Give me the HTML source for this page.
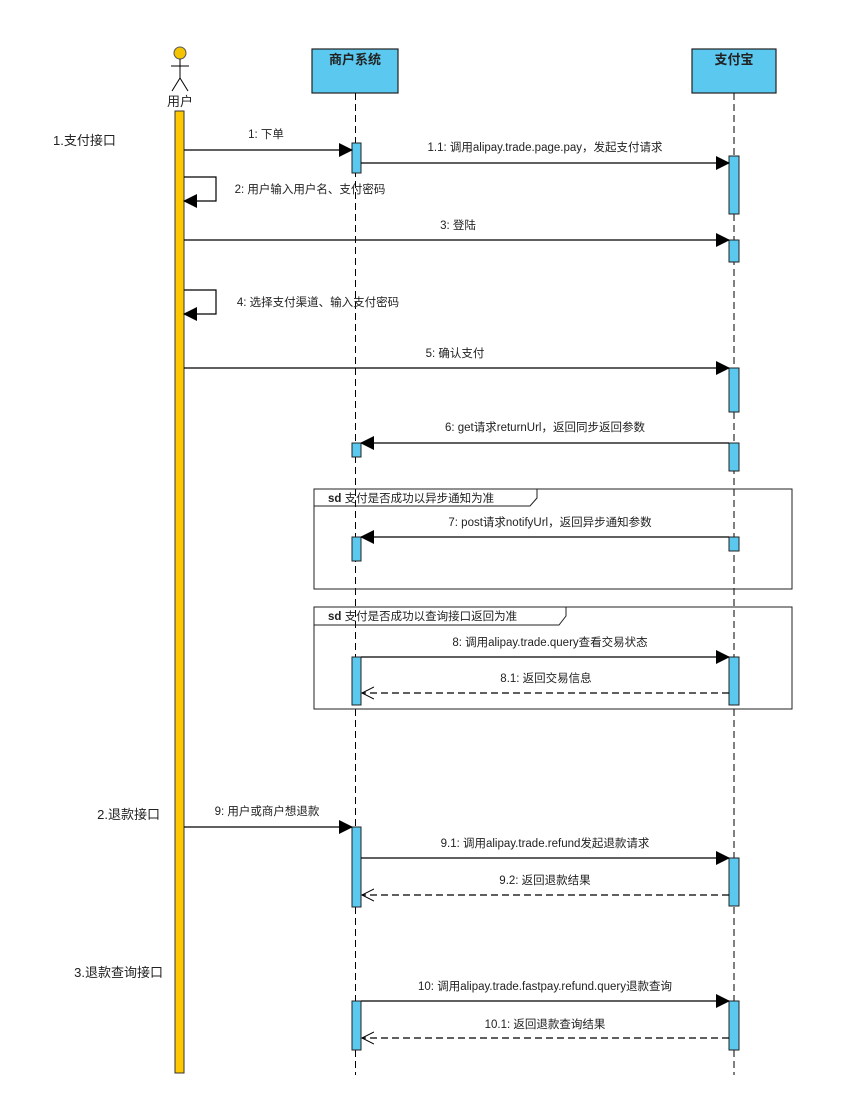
<!DOCTYPE html>
<html><head><meta charset="utf-8"><style>
body{margin:0;background:#fff}
svg{display:block}
text{font-family:"Liberation Sans","Noto Sans CJK SC",sans-serif;fill:#222}
.m{font-size:11.5px}
.s{font-size:13px}
</style></head><body>
<svg width="848" height="1102" viewBox="0 0 848 1102" xmlns="http://www.w3.org/2000/svg">
<defs>
<marker id="f" markerWidth="14" markerHeight="14" refX="13" refY="7" orient="auto" markerUnits="userSpaceOnUse"><path d="M0,0 L14,7 L0,14 Z" fill="#000"/></marker>
<marker id="o" markerWidth="14" markerHeight="14" refX="12" refY="7" orient="auto" markerUnits="userSpaceOnUse"><path d="M0,1 L12,7 L0,13" fill="none" stroke="#000" stroke-width="1"/></marker>
</defs>
<circle cx="180" cy="53" r="6" fill="#f5c400" stroke="#555"/>
<line x1="180" y1="59" x2="180" y2="78" stroke="#000"/>
<line x1="171" y1="66" x2="189" y2="66" stroke="#000"/>
<line x1="180" y1="78" x2="172" y2="91" stroke="#000"/>
<line x1="180" y1="78" x2="188" y2="91" stroke="#000"/>
<text x="180" y="106" class="s" text-anchor="middle">用户</text>
<rect x="175" y="111" width="9" height="962" fill="#ffc800" stroke="#333"/>
<rect x="312" y="49" width="86" height="44" fill="#5bc8f0" stroke="#222" stroke-width="1.2"/>
<text x="355" y="64" class="s" text-anchor="middle" font-weight="bold">商户系统</text>
<rect x="692" y="49" width="84" height="44" fill="#5bc8f0" stroke="#222" stroke-width="1.2"/>
<text x="734" y="64" class="s" text-anchor="middle" font-weight="bold">支付宝</text>
<line x1="355.5" y1="93" x2="355.5" y2="1075" stroke="#000" stroke-dasharray="7,4"/>
<line x1="734" y1="93" x2="734" y2="1075" stroke="#000" stroke-dasharray="7,4"/>
<text x="53" y="145" class="s">1.支付接口</text>
<text x="160" y="819" class="s" text-anchor="end">2.退款接口</text>
<text x="163" y="977" class="s" text-anchor="end">3.退款查询接口</text>
<rect x="314" y="489" width="478" height="100" fill="none" stroke="#222"/>
<path d="M314,506 H530 L537,498 V489" fill="none" stroke="#222"/>
<text x="328" y="502" class="m"><tspan font-weight="bold">sd</tspan> 支付是否成功以异步通知为准</text>
<rect x="314" y="607" width="478" height="102" fill="none" stroke="#222"/>
<path d="M314,625 H559 L566,616 V607" fill="none" stroke="#222"/>
<text x="328" y="620" class="m"><tspan font-weight="bold">sd</tspan> 支付是否成功以查询接口返回为准</text>
<g fill="#5bc8f0" stroke="#222">
<rect x="352" y="143" width="9" height="30"/>
<rect x="729" y="156" width="10" height="58"/>
<rect x="729" y="240" width="10" height="22"/>
<rect x="729" y="368" width="10" height="44"/>
<rect x="352" y="443" width="9" height="14"/>
<rect x="729" y="443" width="10" height="28"/>
<rect x="352" y="537" width="9" height="24"/>
<rect x="729" y="537" width="10" height="14"/>
<rect x="352" y="657" width="9" height="48"/>
<rect x="729" y="657" width="10" height="48"/>
<rect x="352" y="827" width="9" height="80"/>
<rect x="729" y="858" width="10" height="48"/>
<rect x="352" y="1001" width="9" height="49"/>
<rect x="729" y="1001" width="10" height="49"/>
</g>
<g stroke="#000" stroke-width="1.2" fill="none">
<line x1="184" y1="150" x2="352" y2="150" marker-end="url(#f)"/>
<line x1="361" y1="163" x2="729" y2="163" marker-end="url(#f)"/>
<path d="M184,177 H216 V201 H184" marker-end="url(#f)"/>
<line x1="184" y1="240" x2="729" y2="240" marker-end="url(#f)"/>
<path d="M184,290 H216 V314 H184" marker-end="url(#f)"/>
<line x1="184" y1="368" x2="729" y2="368" marker-end="url(#f)"/>
<line x1="729" y1="443" x2="361" y2="443" marker-end="url(#f)"/>
<line x1="729" y1="537" x2="361" y2="537" marker-end="url(#f)"/>
<line x1="361" y1="657" x2="729" y2="657" marker-end="url(#f)"/>
<line x1="729" y1="693" x2="362" y2="693" stroke-dasharray="7,4" marker-end="url(#o)"/>
<line x1="184" y1="827" x2="352" y2="827" marker-end="url(#f)"/>
<line x1="361" y1="858" x2="729" y2="858" marker-end="url(#f)"/>
<line x1="729" y1="895" x2="362" y2="895" stroke-dasharray="7,4" marker-end="url(#o)"/>
<line x1="361" y1="1001" x2="729" y2="1001" marker-end="url(#f)"/>
<line x1="729" y1="1038" x2="362" y2="1038" stroke-dasharray="7,4" marker-end="url(#o)"/>
</g>
<g text-anchor="middle">
<text x="266" y="138" class="m">1: 下单</text>
<text x="545" y="151" class="m">1.1: 调用alipay.trade.page.pay，发起支付请求</text>
<text x="310" y="193" class="m">2: 用户输入用户名、支付密码</text>
<text x="458" y="229" class="m">3: 登陆</text>
<text x="318" y="306" class="m">4: 选择支付渠道、输入支付密码</text>
<text x="455" y="357" class="m">5: 确认支付</text>
<text x="545" y="431" class="m">6: get请求returnUrl，返回同步返回参数</text>
<text x="550" y="526" class="m">7: post请求notifyUrl，返回异步通知参数</text>
<text x="550" y="646" class="m">8: 调用alipay.trade.query查看交易状态</text>
<text x="546" y="682" class="m">8.1: 返回交易信息</text>
<text x="267" y="815" class="m">9: 用户或商户想退款</text>
<text x="545" y="847" class="m">9.1: 调用alipay.trade.refund发起退款请求</text>
<text x="545" y="884" class="m">9.2: 返回退款结果</text>
<text x="545" y="990" class="m">10: 调用alipay.trade.fastpay.refund.query退款查询</text>
<text x="545" y="1028" class="m">10.1: 返回退款查询结果</text>
</g>
</svg>
</body></html>
